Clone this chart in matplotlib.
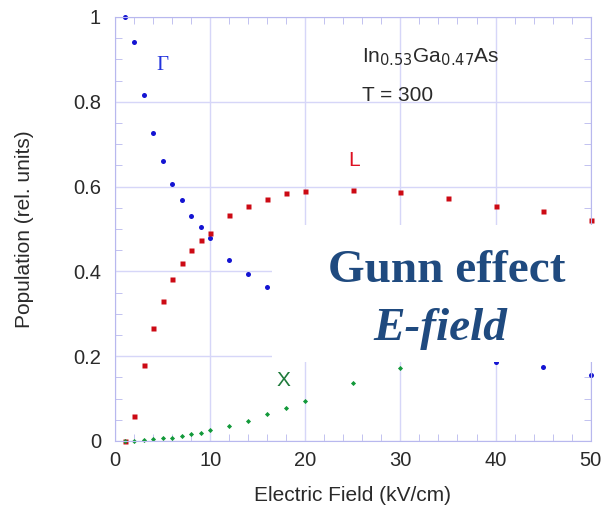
import matplotlib
matplotlib.use('Agg')
import matplotlib.pyplot as plt
from matplotlib.patches import Rectangle
from matplotlib.ticker import MultipleLocator

# populations of the three valleys vs. field
field_gamma = [1, 2, 3, 4, 5, 6, 7, 8, 9, 10, 12, 14, 16, 40, 45, 50]
pop_gamma = [1.0, 0.94, 0.815, 0.727, 0.661, 0.606, 0.568, 0.531, 0.504, 0.478,
             0.428, 0.395, 0.363, 0.186, 0.174, 0.156]

field_L = [1, 2, 3, 4, 5, 6, 7, 8, 9, 10, 12, 14, 16, 18, 20, 25, 30, 35, 40, 45, 50]
pop_L = [0.0, 0.058, 0.18, 0.266, 0.33, 0.381, 0.419, 0.45, 0.474, 0.49,
         0.534, 0.554, 0.571, 0.584, 0.589, 0.592, 0.587, 0.573, 0.554, 0.542, 0.521]

field_X = [1, 2, 3, 4, 5, 6, 7, 8, 9, 10, 12, 14, 16, 18, 20, 25, 30]
pop_X = [0.0, 0.0, 0.002, 0.004, 0.006, 0.008, 0.011, 0.016, 0.019, 0.026,
         0.036, 0.048, 0.063, 0.077, 0.094, 0.136, 0.173]

y_ticks = [0, 0.2, 0.4, 0.6, 0.8, 1]
y_labels = ['0', '0.2', '0.4', '0.6', '0.8', '1']

plt.rcParams['font.family'] = ['Liberation Sans', 'DejaVu Sans']

fig = plt.figure(figsize=(6.16, 5.12), dpi=100)
ax = fig.add_axes([0.1867, 0.1387, 0.7722, 0.8281])

edge = '#b8b8ee'
ax.plot(field_gamma, pop_gamma, 'o', color='#1414d2', ms=3.6, mec='none', clip_on=False)
ax.plot(field_L, pop_L, 's', color='#cc0a14', ms=3.6, mec='none', clip_on=False)
ax.plot(field_X, pop_X, 'D', color='#12993a', ms=2.6, mec='none', clip_on=False)

ax.set_xlim(0, 50)
ax.set_ylim(0, 1)
ax.xaxis.set_major_locator(MultipleLocator(10))
ax.xaxis.set_minor_locator(MultipleLocator(2))
ax.yaxis.set_minor_locator(MultipleLocator(0.05))
ax.set_yticks(y_ticks)
ax.set_yticklabels(y_labels)
ax.grid(True, which='major', color='#d6d6f8', lw=1)
ax.set_axisbelow(True)
for s in ax.spines.values():
    s.set_color(edge)
ax.tick_params(which='both', direction='in', top=True, right=True, color=edge,
               labelcolor='#2a2a2a', labelsize=14.5)
ax.tick_params(which='major', length=0)
ax.tick_params(which='minor', length=5)
ax.tick_params(axis='x', which='major', pad=7)
ax.tick_params(axis='y', which='major', pad=10)

ax.set_xlabel('Electric Field (kV/cm)', fontsize=15, color='#2a2a2a', labelpad=12)
ax.set_ylabel('Population (rel. units)', fontsize=15, color='#2a2a2a', labelpad=28)

ax.text(5.0, 0.886, 'Γ', color='#2233dd', fontsize=15, family='Liberation Serif',
        ha='center', va='center')
ax.text(25.1, 0.661, 'L', color='#dd1122', fontsize=15, ha='center', va='center')
ax.text(17.7, 0.142, 'X', color='#1e7a3a', fontsize=15, ha='center', va='center')
ax.text(26.0, 0.892, r'In$_{0.53}$Ga$_{0.47}$As', fontsize=15, color='#2a2a2a')
ax.text(26.0, 0.802, 'T = 300', fontsize=15, color='#2a2a2a')

# white panel over the plot with the slide caption
fig.add_artist(Rectangle((0.4416, 0.293), 0.5584, 0.2676, transform=fig.transFigure,
                         facecolor='white', edgecolor='none', zorder=5))
fig.text(0.725, 0.4498, 'Gunn effect', fontsize=34, fontweight='bold',
         family='Liberation Serif', color='#1f4a7f', ha='center', va='baseline', zorder=6)
fig.text(0.714, 0.336, 'E-field', fontsize=34, fontweight='bold', style='italic',
         family='Liberation Serif', color='#1f4a7f', ha='center', va='baseline', zorder=6)

fig.savefig('out.png', dpi=100)
